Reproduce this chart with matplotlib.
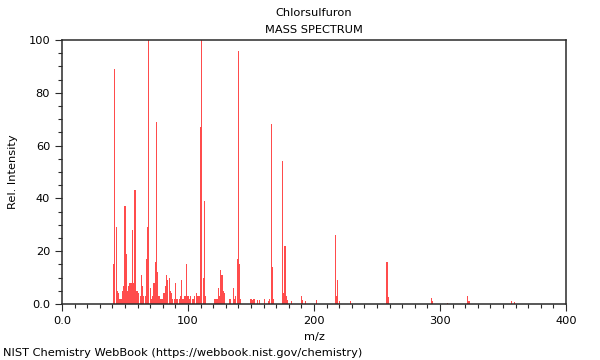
import numpy as np
import matplotlib
matplotlib.use("Agg")
import matplotlib.pyplot as plt
from matplotlib.ticker import MultipleLocator, FuncFormatter

# peak list (m/z, relative intensity)
mz = [41, 42, 43, 44, 45, 46, 47, 48, 49, 50, 51, 52, 53, 54, 55, 56, 57, 58,
      59, 60, 61, 62, 63, 64, 65, 66, 67, 68, 69, 70, 71, 72, 73, 74, 75, 76,
      77, 78, 79, 80, 81, 82, 83, 84, 85, 86, 87, 88, 89, 90, 91, 92, 93, 94,
      95, 96, 97, 98, 99, 100, 101, 102, 104, 105, 107, 108, 109, 110, 111,
      112, 113, 114, 121, 122, 123, 124, 125, 126, 127, 128, 129, 133, 134,
      136, 137, 138, 139, 140, 141, 142, 150, 151, 152, 153, 155, 157, 161,
      164, 165, 166, 167, 168, 175, 176, 177, 178, 179, 182, 190, 191, 193,
      202, 217, 218, 219, 220, 229, 258, 259, 293, 294, 306, 322, 323, 357,
      359]
intensity = [15, 89, 29, 5, 4, 2, 2, 5, 7, 37, 19, 5, 7, 8, 8, 28, 8, 43,
             5, 5, 4, 3, 11, 7, 3, 3, 17, 29, 100, 6, 2, 3, 8, 16, 69, 12,
             3, 2, 2, 2, 4, 7, 11, 9, 10, 5, 4, 2, 2, 8, 2, 2, 2, 3,
             9, 2, 3, 3, 15, 3, 2, 3, 2, 3, 4, 3, 3, 67, 100,
             10, 39, 3, 2, 2, 2, 6, 3, 13, 11, 5, 4, 2, 2,
             6, 2, 3, 17, 96, 15, 2, 2, 1.5, 2, 2, 1.5, 1.5, 2,
             1, 2, 68, 14, 2, 54, 4, 22, 3, 1.5, 1, 3, 1.5, 1,
             1.5, 26, 3, 9, 1, 1, 16, 2.5, 2.2, 1, 0.3, 3, 1, 1.1,
             0.6]

fig = plt.figure(figsize=(6, 3.6), dpi=100)
ax = fig.add_axes([0.1033, 0.1556, 0.84, 0.7333])

ax.bar(mz, intensity, width=0.9, color="#ff0000", alpha=0.7, linewidth=0)

ax.set_xlim(0, 400)
ax.set_ylim(0, 100)
ax.xaxis.set_major_locator(MultipleLocator(100))
ax.xaxis.set_minor_locator(MultipleLocator(10))
ax.yaxis.set_major_locator(MultipleLocator(20))
ax.yaxis.set_minor_locator(MultipleLocator(5))

fmt = FuncFormatter(lambda v, p: "0.0" if v == 0 else "%d" % v)
ax.xaxis.set_major_formatter(fmt)
ax.yaxis.set_major_formatter(fmt)

for s in ax.spines.values():
    s.set_color("#2a2a2a")
    s.set_linewidth(1.1)
ax.tick_params(which="major", direction="out", length=5, width=0.8,
               color="#2a2a2a", labelsize=8.2)
ax.tick_params(which="minor", direction="out", length=3, width=0.8,
               color="#2a2a2a")

ax.set_xlabel("m/z", fontsize=8.2)
ax.set_ylabel("Rel. Intensity", fontsize=8.2)
ax.yaxis.set_label_coords(-0.088, 0.5)
ax.xaxis.set_label_coords(0.5, -0.105)

fig.text(0.523, 0.963, "Chlorsulfuron", ha="center", va="center", fontsize=8.2)
fig.text(0.523, 0.916, "MASS SPECTRUM", ha="center", va="center", fontsize=8.2)
fig.text(0.005, 0.02, "NIST Chemistry WebBook (https://webbook.nist.gov/chemistry)",
         ha="left", va="center", fontsize=8.2)

fig.savefig("out.png", dpi=100)
